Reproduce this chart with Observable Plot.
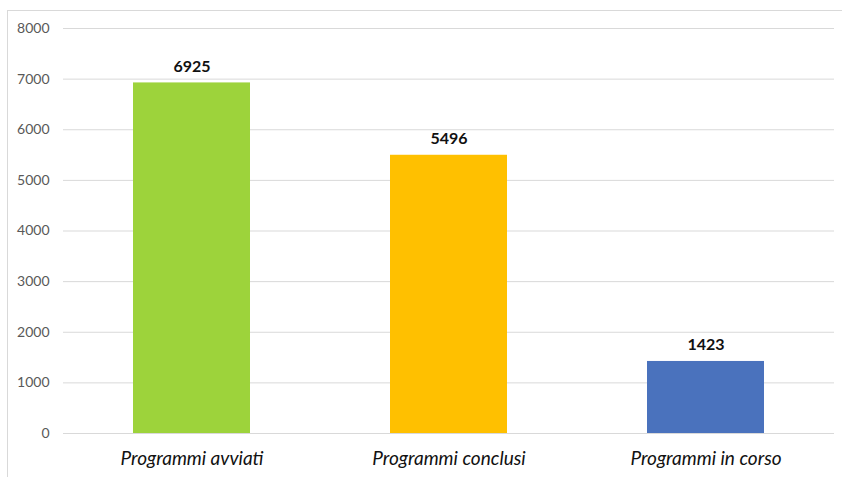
<!DOCTYPE html>
<html>
<head>
<meta charset="utf-8">
<script src="https://cdn.jsdelivr.net/npm/d3@7"></script>
<script src="https://cdn.jsdelivr.net/npm/@observablehq/plot@0.6"></script>
<style>
  html, body { margin: 0; padding: 0; background: #fff; }
  #wrap { position: relative; width: 842px; height: 477px; overflow: hidden; }
  #border { position: absolute; left: 7px; top: 10px; width: 900px; height: 500px;
            border-left: 1px solid #d9d9d9; border-top: 1px solid #d9d9d9; }
  #chart { position: absolute; left: 0; top: 0; }
</style>
</head>
<body>
<div id="wrap"><div id="border"></div><div id="chart"></div></div>
<script>
const categories = ["Programmi avviati", "Programmi conclusi", "Programmi in corso"];
const values = [6925, 5496, 1423];
const colors = ["#9DD33B", "#FFC000", "#4A72BD"];
const yTicks = [0, 1000, 2000, 3000, 4000, 5000, 6000, 7000, 8000];

const data = categories.map((c, i) => ({category: c, value: values[i], color: colors[i]}));

const chart = Plot.plot({
  width: 842,
  height: 477,
  marginLeft: 63,
  marginRight: 8,
  marginTop: 28,
  marginBottom: 44,
  style: {fontFamily: "Lato, 'Noto Sans', sans-serif", background: "transparent"},
  x: {domain: categories, paddingInner: 0.545, paddingOuter: 0.2725, label: null},
  y: {domain: [0, 8000], label: null},
  marks: [
    Plot.gridY(yTicks, {stroke: "#d9d9d9", strokeOpacity: 1, strokeWidth: 1}),
    Plot.axisY(yTicks, {tickSize: 0, tickPadding: 14, fontSize: 14, fill: "#595959", tickFormat: d => String(d)}),
    Plot.axisX({tickSize: 0, tickPadding: 18, fontSize: 19, fontStyle: "italic", fill: "#111", label: null}),
    Plot.barY(data, {x: "category", y: "value", fill: "color"}),
    Plot.text(data, {x: "category", y: "value", text: d => String(d.value), lineAnchor: "bottom", dy: -11,
      fontSize: 16, fontWeight: "bold", fill: "#111"})
  ]
});
document.getElementById("chart").appendChild(chart);
</script>
</body>
</html>
